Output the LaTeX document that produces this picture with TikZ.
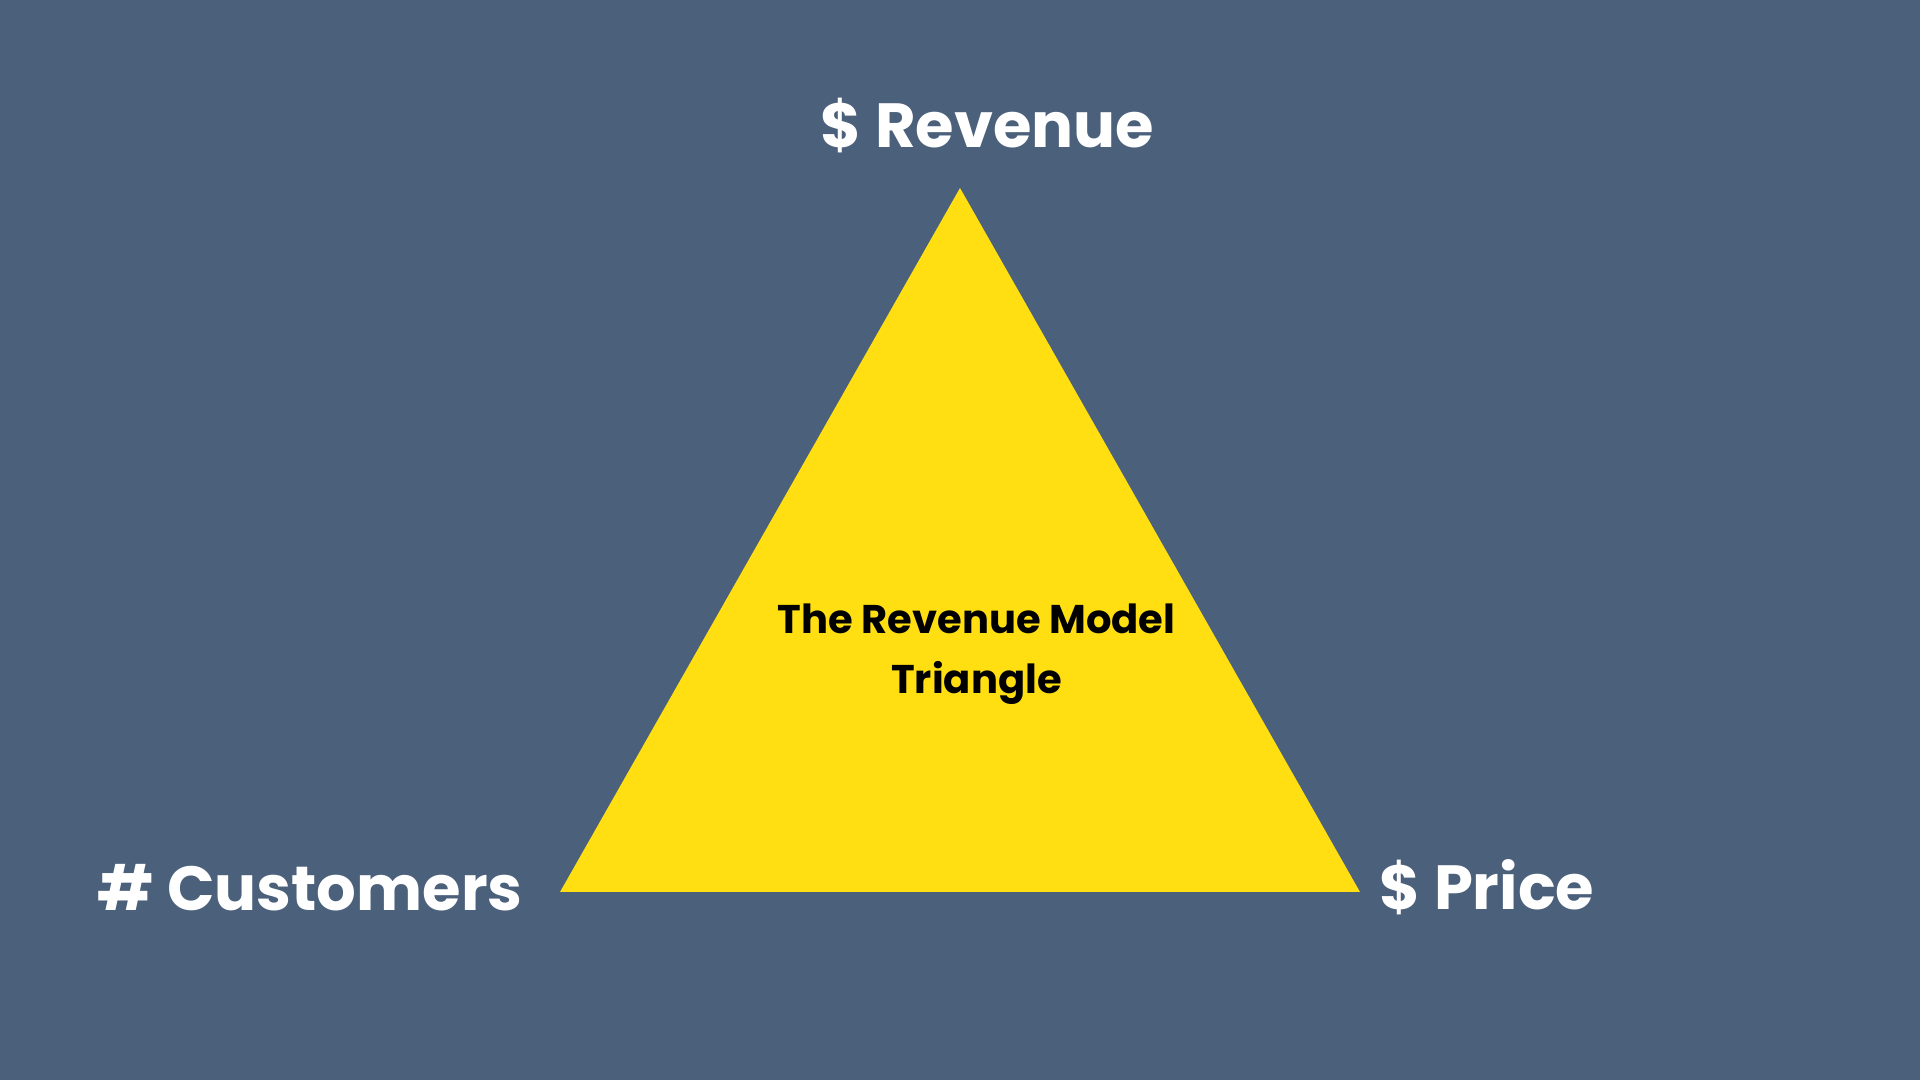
\documentclass[tikz,border=0pt]{standalone}
\usepackage{fontspec}
\setmainfont{Poppins}
\usepackage{tikz}

\definecolor{slateBg}{HTML}{4B607B}
\definecolor{triYellow}{HTML}{FFDF12}

\begin{document}
\begin{tikzpicture}[
  corner label/.style={text=white, font=\fontsize{17.75}{21}\selectfont\bfseries, inner sep=0pt},
  title label/.style={text=black, font=\fontsize{11.4}{17.1}\selectfont\bfseries, align=center, inner sep=0pt}
]

% Background
\fill[slateBg] (0,0) rectangle (19.2,10.8);
\useasboundingbox (0,0) rectangle (19.2,10.8);

% Corners of the triangle
\coordinate (apex) at (9.6,8.92);
\coordinate (left) at (5.6,1.88);
\coordinate (right) at (13.6,1.88);

% Yellow triangle
\fill[triYellow] (apex) -- (left) -- (right) -- cycle;

% Labels at the corners
\node[corner label, anchor=base] (revenue) at (9.875,9.32) {\$ Revenue};
\node[corner label, anchor=base] (customers) at (3.10,1.69) {\# Customers};
\node[corner label, anchor=base] (price) at (14.87,1.70) {\$ Price};

% Title in the middle
\node[title label] (title) at (9.765,4.26) {The Revenue Model\\Triangle};

\end{tikzpicture}
\end{document}
